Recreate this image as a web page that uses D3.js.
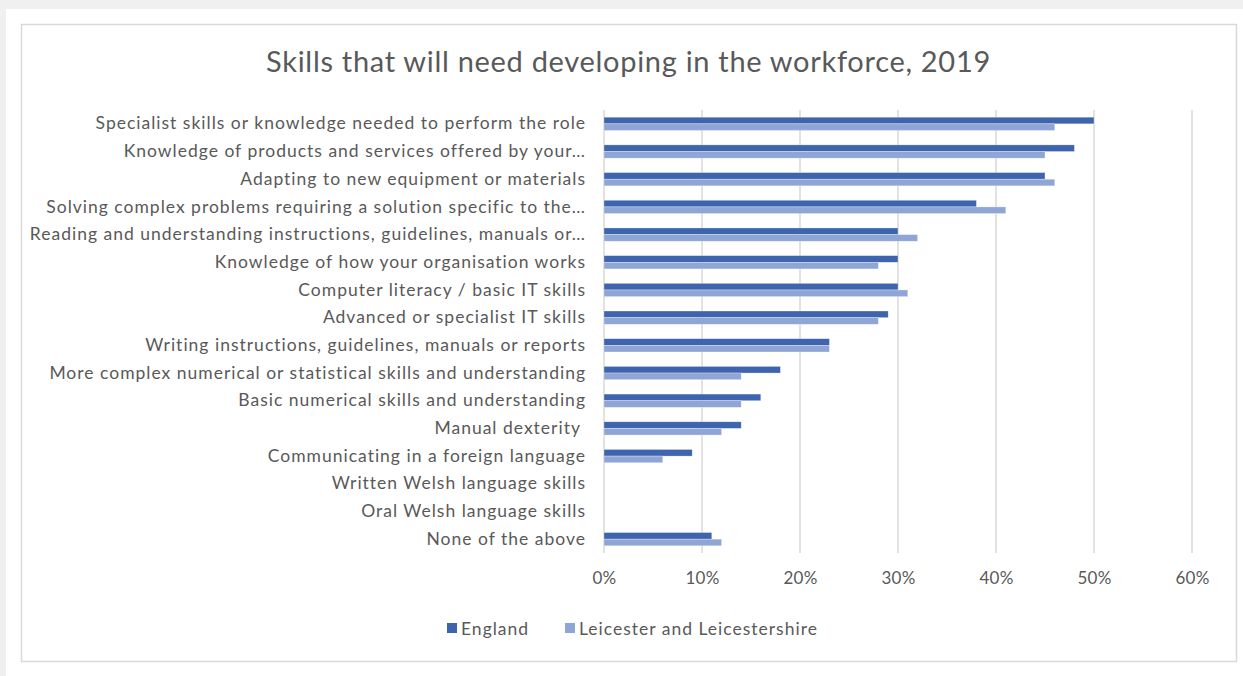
<!DOCTYPE html>
<html>
<head>
<meta charset="utf-8">
<script src="https://cdn.jsdelivr.net/npm/d3@7"></script>
<style>
  html, body { margin: 0; padding: 0; background: #f0f0f0; }
  svg { display: block; }
  text { font-family: Lato, "Open Sans", sans-serif; fill: #595959; }
</style>
</head>
<body>
<svg id="chart" width="1243" height="676"></svg>
<script>
// Skills survey categories, top to bottom
const categories = [
  "Specialist skills or knowledge needed to perform the role",
  "Knowledge of products and services offered by your\u2026",
  "Adapting to new equipment or materials",
  "Solving complex problems requiring a solution specific to the\u2026",
  "Reading and understanding instructions, guidelines, manuals or\u2026",
  "Knowledge of how your organisation works",
  "Computer literacy / basic IT skills",
  "Advanced or specialist IT skills",
  "Writing instructions, guidelines, manuals or reports",
  "More complex numerical or statistical skills and understanding",
  "Basic numerical skills and understanding",
  "Manual dexterity\u00a0",
  "Communicating in a foreign language",
  "Written Welsh language skills",
  "Oral Welsh language skills",
  "None of the above"
];

// Share of employers (%)
const england   = [50, 48, 45, 38, 30, 30, 30, 29, 23, 18, 16, 14, 9, 0, 0, 11];
const leicester = [46, 45, 46, 41, 32, 28, 31, 28, 23, 14, 14, 12, 6, 0, 0, 12];

const seriesNames = ["England", "Leicester and Leicestershire"];
const seriesColors = ["#3e64ad", "#8ea5d6"];
const xTicks = [0, 10, 20, 30, 40, 50, 60];

const svg = d3.select("#chart");

// Page and chart frame
svg.append("rect").attr("x", 6).attr("y", 9).attr("width", 1237).attr("height", 667).attr("fill", "#ffffff");
svg.append("rect").attr("x", 21.5).attr("y", 24.5).attr("width", 1215).attr("height", 637)
  .attr("fill", "#ffffff").attr("stroke", "#d9d9d9").attr("stroke-width", 1.5);

// Title
svg.append("text")
  .attr("x", 628.5).attr("y", 72)
  .attr("text-anchor", "middle")
  .style("font-size", "29px")
  .style("letter-spacing", "0.7px")
  .text("Skills that will need developing in the workforce, 2019");

const x = d3.scaleLinear().domain([0, 60]).range([604, 1192]);
const y = d3.scaleBand().domain(categories).range([110, 553]).paddingInner(0.52).paddingOuter(0.26);
const ySub = d3.scaleBand().domain(seriesNames).range([0, y.bandwidth()]);

// Vertical gridlines
svg.append("g").selectAll("line").data(xTicks).join("line")
  .attr("x1", d => x(d)).attr("x2", d => x(d))
  .attr("y1", 110).attr("y2", 553)
  .attr("stroke", "#d9d9d9").attr("stroke-width", 1.5);

// X axis tick labels
const xAxis = d3.axisBottom(x).tickValues(xTicks).tickFormat(d => d + "%").tickSize(0).tickPadding(0);
const gx = svg.append("g").attr("transform", "translate(0,572)").call(xAxis);
gx.select(".domain").remove();
gx.selectAll("text").style("font-size", "17px").style("letter-spacing", "0.3px")
  .style("font-family", "Lato, 'Open Sans', sans-serif").attr("fill", "#595959");

// Category labels
const yAxis = d3.axisLeft(y).tickSize(0).tickPadding(0);
const gy = svg.append("g").attr("transform", "translate(586,0)").call(yAxis);
gy.select(".domain").remove();
gy.selectAll("text").style("font-size", "17.5px").style("letter-spacing", "1px")
  .style("font-family", "Lato, 'Open Sans', sans-serif")
  .attr("fill", "#595959").attr("dy", "0.32em").style("white-space", "pre");

// Bars
const rows = categories.map((c, i) => ({ cat: c, vals: [england[i], leicester[i]] }));
const groups = svg.append("g").selectAll("g").data(rows).join("g")
  .attr("transform", d => `translate(0,${y(d.cat)})`);
groups.selectAll("rect").data(d => d.vals.map((v, j) => ({ v, s: seriesNames[j], c: seriesColors[j] })))
  .join("rect")
  .filter(d => d.v > 0)
  .attr("x", x(0))
  .attr("y", d => ySub(d.s))
  .attr("width", d => x(d.v) - x(0))
  .attr("height", ySub.bandwidth())
  .attr("fill", d => d.c)
  .attr("stroke", "#ffffff").attr("stroke-opacity", 0.5).attr("stroke-width", 0.6);

// Legend
const legendX = [447, 565];
const legend = svg.append("g").selectAll("g").data(seriesNames).join("g")
  .attr("transform", (d, i) => `translate(${legendX[i]},623)`);
legend.append("rect").attr("width", 10).attr("height", 10).attr("fill", (d, i) => seriesColors[i]);
legend.append("text").attr("x", 14).attr("y", 11.5).style("font-size", "17.5px")
  .style("letter-spacing", "1px").text(d => d);
</script>
</body>
</html>
